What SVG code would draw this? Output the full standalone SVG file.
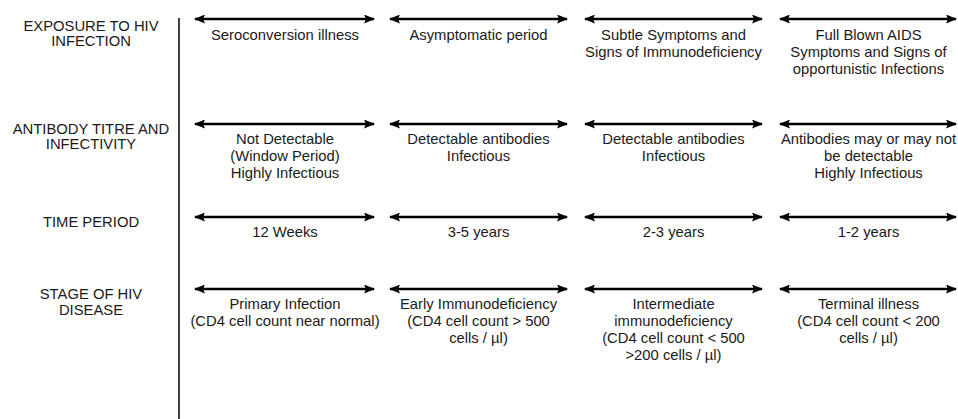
<svg xmlns="http://www.w3.org/2000/svg" width="958" height="419" viewBox="0 0 958 419">
<defs>
<marker id="ah" viewBox="0 0 11 9" refX="10" refY="4.5" markerWidth="11" markerHeight="9" markerUnits="userSpaceOnUse" orient="auto-start-reverse">
<path d="M0,0 L11,4.5 L0,9 L2,4.5 Z" fill="#000"/>
</marker>
<style>
text{font-family:"Liberation Sans",Arial,sans-serif;font-size:14.8px;fill:#1a1a1a;text-anchor:middle}
.arr{stroke:#000;stroke-width:2.3;fill:none;marker-start:url(#ah);marker-end:url(#ah)}
.axis{stroke:#111;stroke-width:1.6;fill:none}
</style>
</defs>
<rect width="958" height="419" fill="#fff"/>
<g id="connectors">
<line class="axis" x1="179" y1="18" x2="179" y2="419"/>
<line class="arr" x1="195" y1="19" x2="374" y2="19"/>
<line class="arr" x1="390" y1="19" x2="567" y2="19"/>
<line class="arr" x1="585" y1="19" x2="762" y2="19"/>
<line class="arr" x1="780" y1="19" x2="956" y2="19"/>
<line class="arr" x1="195" y1="124" x2="374" y2="124"/>
<line class="arr" x1="390" y1="124" x2="567" y2="124"/>
<line class="arr" x1="585" y1="124" x2="762" y2="124"/>
<line class="arr" x1="780" y1="124" x2="956" y2="124"/>
<line class="arr" x1="195" y1="217" x2="374" y2="217"/>
<line class="arr" x1="390" y1="217" x2="567" y2="217"/>
<line class="arr" x1="585" y1="217" x2="762" y2="217"/>
<line class="arr" x1="780" y1="217" x2="956" y2="217"/>
<line class="arr" x1="195" y1="289" x2="374" y2="289"/>
<line class="arr" x1="390" y1="289" x2="567" y2="289"/>
<line class="arr" x1="585" y1="289" x2="762" y2="289"/>
<line class="arr" x1="780" y1="289" x2="956" y2="289"/>
</g>
<g id="label-exposure"><text x="91" y="31">EXPOSURE TO HIV</text><text x="91" y="46">INFECTION</text></g>
<g id="label-antibody"><text x="91" y="134">ANTIBODY TITRE AND</text><text x="91" y="149">INFECTIVITY</text></g>
<g id="label-time"><text x="91" y="227">TIME PERIOD</text></g>
<g id="label-stage"><text x="91" y="299">STAGE OF HIV</text><text x="91" y="315">DISEASE</text></g>

<g id="r1c1"><text x="285" y="40">Seroconversion illness</text></g>
<g id="r1c2"><text x="478.5" y="40">Asymptomatic period</text></g>
<g id="r1c3"><text x="673.5" y="40">Subtle Symptoms and</text><text x="673.5" y="57">Signs of Immunodeficiency</text></g>
<g id="r1c4"><text x="868.5" y="40">Full Blown AIDS</text><text x="868.5" y="57">Symptoms and Signs of</text><text x="868.5" y="74">opportunistic Infections</text></g>

<g id="r2c1"><text x="285" y="144">Not Detectable</text><text x="285" y="161">(Window Period)</text><text x="285" y="178">Highly Infectious</text></g>
<g id="r2c2"><text x="478.5" y="144">Detectable antibodies</text><text x="478.5" y="161">Infectious</text></g>
<g id="r2c3"><text x="673.5" y="144">Detectable antibodies</text><text x="673.5" y="161">Infectious</text></g>
<g id="r2c4"><text x="868.5" y="144">Antibodies may or may not</text><text x="868.5" y="161">be detectable</text><text x="868.5" y="178">Highly Infectious</text></g>

<g id="r3c1"><text x="285" y="237">12 Weeks</text></g>
<g id="r3c2"><text x="478.5" y="237">3-5 years</text></g>
<g id="r3c3"><text x="673.5" y="237">2-3 years</text></g>
<g id="r3c4"><text x="868.5" y="237">1-2 years</text></g>

<g id="r4c1"><text x="285" y="309">Primary Infection</text><text x="285" y="326">(CD4 cell count near normal)</text></g>
<g id="r4c2"><text x="478.5" y="309">Early Immunodeficiency</text><text x="478.5" y="326">(CD4 cell count &gt; 500</text><text x="478.5" y="343">cells / µl)</text></g>
<g id="r4c3"><text x="673.5" y="309">Intermediate</text><text x="673.5" y="326">immunodeficiency</text><text x="673.5" y="343">(CD4 cell count &lt; 500</text><text x="673.5" y="360">&gt;200 cells / µl)</text></g>
<g id="r4c4"><text x="868.5" y="309">Terminal illness</text><text x="868.5" y="326">(CD4 cell count &lt; 200</text><text x="868.5" y="343">cells / µl)</text></g>
</svg>
